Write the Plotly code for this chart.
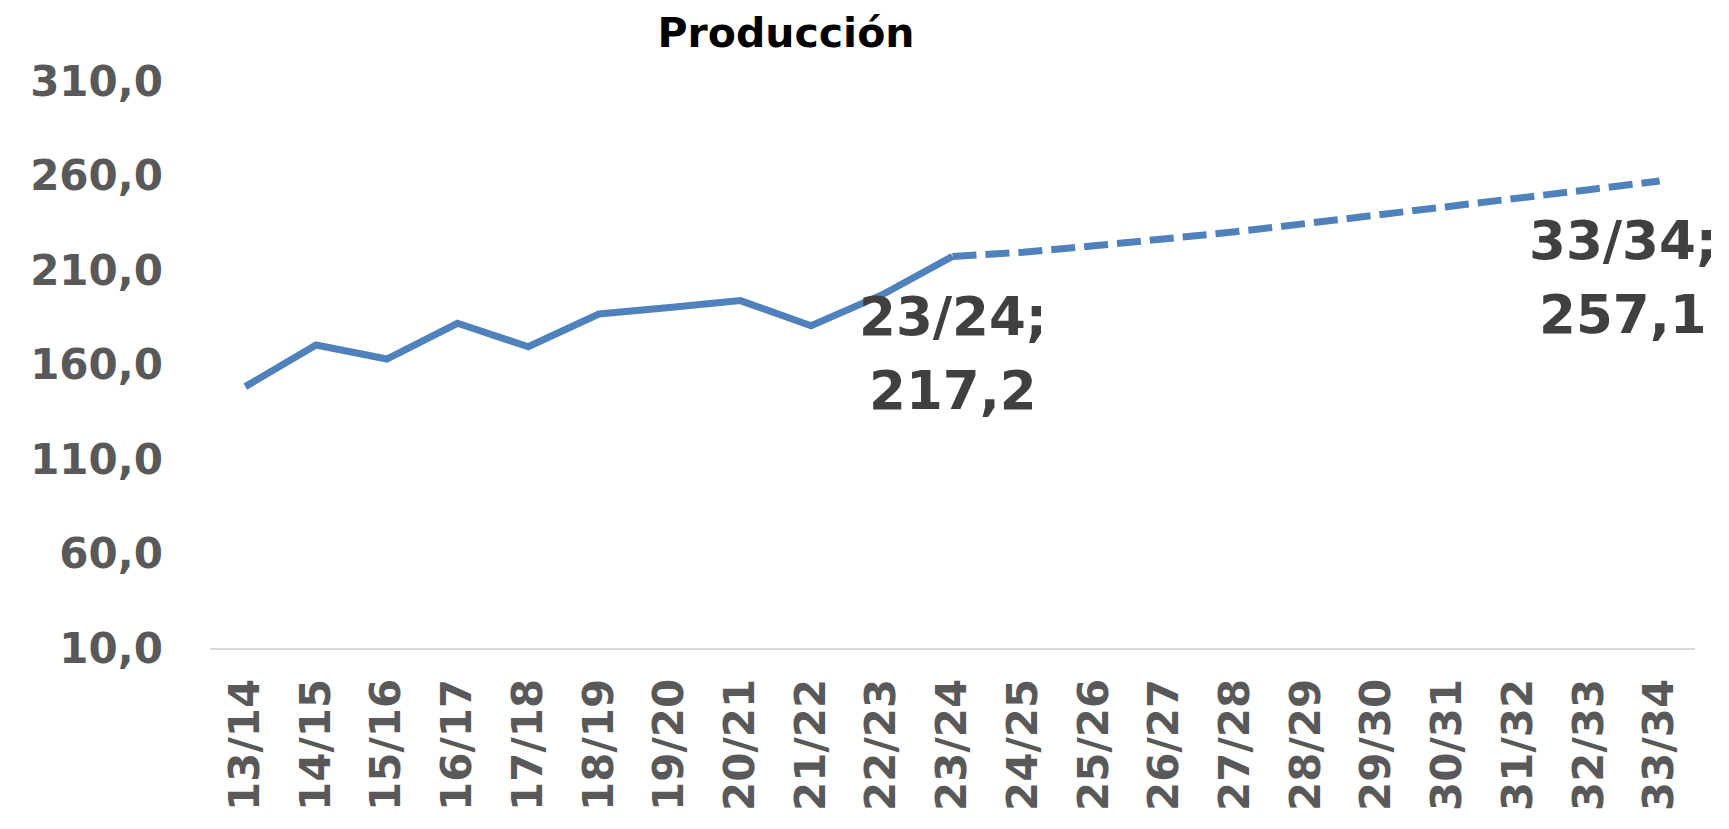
import plotly.graph_objects as go

# Campaign labels and production series
campaigns = ["13/14", "14/15", "15/16", "16/17", "17/18", "18/19", "19/20",
             "20/21", "21/22", "22/23", "23/24", "24/25", "25/26", "26/27",
             "27/28", "28/29", "29/30", "30/31", "31/32", "32/33", "33/34"]
observed = [148.3, 170.3, 162.9, 181.8, 169.4, 186.7, 190.2, 193.8, 180.5,
            196.8, 217.2]
projected = [217.2, 219.4, 222.8, 226.3, 230.2, 234.6, 238.9, 243.6, 247.9,
             252.5, 257.1]
y_ticks = [10, 60, 110, 160, 210, 260, 310]

LINE_COLOR = "#4F81BD"
FONT = "DejaVu Sans"

n_obs = len(observed)
obs_x = campaigns[:n_obs]
proj_x = campaigns[n_obs - 1:]

fig = go.Figure()
fig.add_trace(go.Scatter(
    x=obs_x, y=observed, mode="lines",
    line=dict(color=LINE_COLOR, width=7),
    hoverinfo="x+y", showlegend=False,
))
fig.add_trace(go.Scatter(
    x=proj_x, y=projected, mode="lines",
    line=dict(color=LINE_COLOR, width=7, dash="24px,9px"),
    hoverinfo="x+y", showlegend=False,
))


def fmt(v):
    return f"{v:.1f}".replace(".", ",")


# Two-line value labels under the last observed and last projected points
labelled = [(obs_x[-1], observed[-1], 0), (proj_x[-1], projected[-1], -37)]
for cat, val, dx in labelled:
    for text, dy in ((f"{cat};", -60), (fmt(val), -134)):
        fig.add_annotation(
            x=cat, y=val, xref="x", yref="y", text=text, showarrow=False,
            xanchor="center", yanchor="middle", xshift=dx, yshift=dy,
            font=dict(family=FONT, size=53, color="#404040", weight="bold"),
        )

fig.update_layout(
    width=1729, height=829,
    margin=dict(l=210, r=34, t=81, b=181),
    paper_bgcolor="white", plot_bgcolor="white",
    separators=",.",
    title=dict(
        text="<b>Producción</b>", x=786 / 1729, xanchor="center",
        y=1 - 33 / 829, yanchor="middle", xref="container", yref="container",
        font=dict(family=FONT, size=41, color="black"),
    ),
    xaxis=dict(
        type="category", categoryorder="array", categoryarray=campaigns,
        range=[-0.5, len(campaigns) - 0.5], automargin=False,
        showgrid=False, zeroline=False,
        showline=True, linecolor="#D9D9D9", linewidth=2,
        ticks="", tickangle=-90, ticklabelstandoff=12,
        tickfont=dict(family=FONT, size=42, color="#595959", weight="bold"),
    ),
    yaxis=dict(
        range=[10, 310], tickvals=y_ticks, tickformat=".1f", automargin=False,
        showgrid=False, zeroline=False, showline=False, ticks="",
        ticklabelstandoff=46,
        tickfont=dict(family=FONT, size=42, color="#595959", weight="bold"),
    ),
)

fig.write_html("out.html")
